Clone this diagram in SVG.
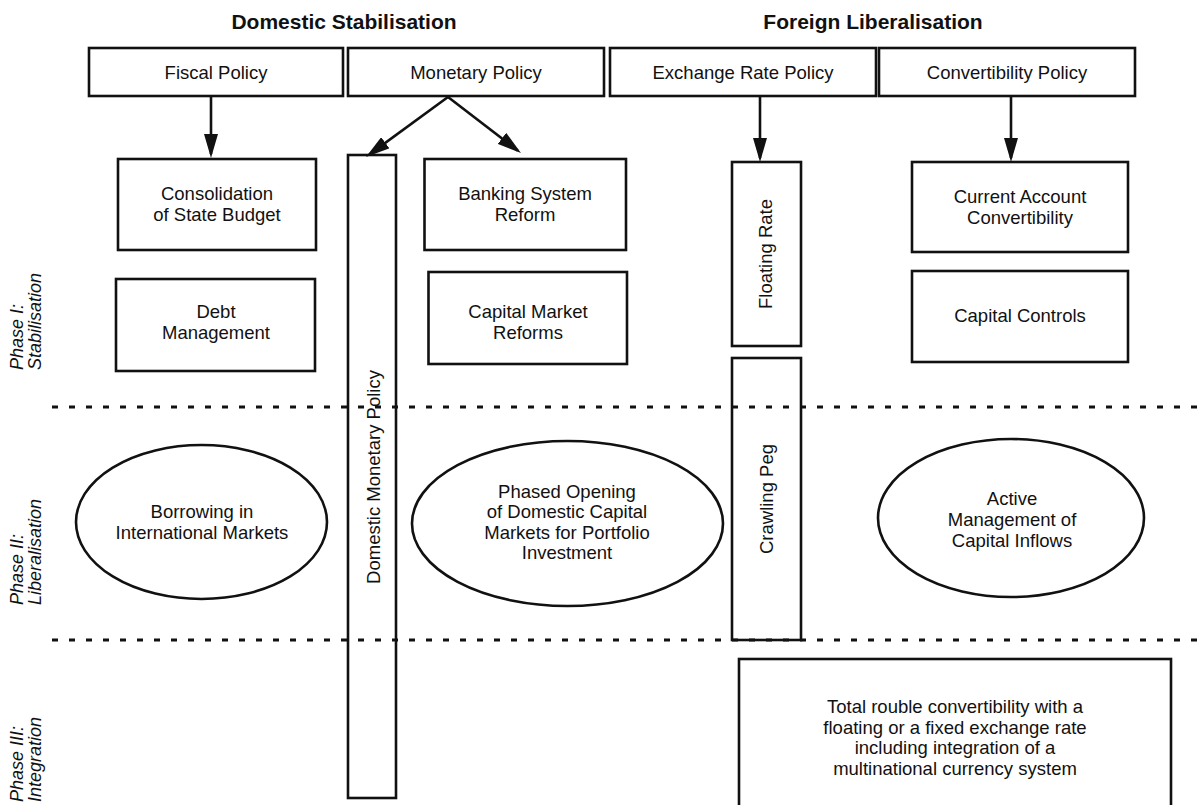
<svg xmlns="http://www.w3.org/2000/svg" width="1199" height="805" viewBox="0 0 1199 805">
<style>
text{font-family:"Liberation Sans",Arial,Helvetica,sans-serif;fill:#111;}
.t{font-size:18.5px;text-anchor:middle;}
.h{font-size:21px;font-weight:bold;text-anchor:middle;}
.p{font-size:18px;font-style:italic;}
.b{fill:none;stroke:#111;stroke-width:2.6;}
.dash{stroke:#111;stroke-width:3;stroke-dasharray:6 11;fill:none;}
.c{stroke:#111;stroke-width:2.6;fill:none;marker-end:url(#ah);}
</style>
<defs>
<marker id="ah" markerUnits="userSpaceOnUse" markerWidth="24" markerHeight="14" refX="20" refY="7" orient="auto">
<path d="M0,0 L24,7 L0,14 z" fill="#111"/>
</marker>
</defs>
<rect width="1199" height="805" fill="#fff"/>

<g id="headers">
<text class="h" x="344" y="29">Domestic Stabilisation</text>
<text class="h" x="873" y="29">Foreign Liberalisation</text>
</g>

<g id="phases">
<text class="p" transform="translate(22.5,370) rotate(-90)"><tspan x="0" y="0">Phase I:</tspan><tspan x="0" y="18.5">Stabilisation</tspan></text>
<text class="p" transform="translate(22.5,605) rotate(-90)"><tspan x="0" y="0">Phase II:</tspan><tspan x="0" y="18.5">Liberalisation</tspan></text>
<text class="p" transform="translate(22.5,802) rotate(-90)"><tspan x="0" y="0">Phase III:</tspan><tspan x="0" y="18.5">Integration</tspan></text>
</g>

<g id="dividers">
<line class="dash" x1="52" y1="407" x2="1199" y2="407"/>
<line class="dash" x1="52" y1="640" x2="1199" y2="640"/>
</g>

<g id="fiscal-policy"><rect class="b" x="89" y="48" width="254" height="48"/><text class="t" x="216" y="79">Fiscal Policy</text></g>
<g id="monetary-policy"><rect class="b" x="348" y="48" width="256" height="48"/><text class="t" x="476" y="79">Monetary Policy</text></g>
<g id="exchange-rate-policy"><rect class="b" x="610" y="48" width="266" height="48"/><text class="t" x="743" y="79">Exchange Rate Policy</text></g>
<g id="convertibility-policy"><rect class="b" x="879" y="48" width="256" height="48"/><text class="t" x="1007" y="79">Convertibility Policy</text></g>

<g id="consolidation"><rect class="b" x="118" y="159" width="198" height="91"/><text class="t" x="217" y="200">Consolidation</text><text class="t" x="217" y="221">of State Budget</text></g>
<g id="debt-management"><rect class="b" x="116" y="279" width="199" height="92"/><text class="t" x="216" y="318">Debt</text><text class="t" x="216" y="339">Management</text></g>
<g id="domestic-monetary-policy"><rect class="b" x="348" y="155" width="48" height="643"/><text class="t" transform="translate(380,477) rotate(-90)">Domestic Monetary Policy</text></g>
<g id="banking-system-reform"><rect class="b" x="424.5" y="159" width="201.5" height="91"/><text class="t" x="525" y="200">Banking System</text><text class="t" x="525" y="221">Reform</text></g>
<g id="capital-market-reforms"><rect class="b" x="428.5" y="272" width="198.5" height="92"/><text class="t" x="528" y="318">Capital Market</text><text class="t" x="528" y="339">Reforms</text></g>
<g id="floating-rate"><rect class="b" x="732" y="162" width="69" height="184"/><text class="t" transform="translate(772,254) rotate(-90)">Floating Rate</text></g>
<g id="crawling-peg"><rect class="b" x="732" y="358" width="69" height="282"/><text class="t" transform="translate(773,499) rotate(-90)">Crawling Peg</text></g>
<g id="current-account-convertibility"><rect class="b" x="912" y="162" width="216" height="90"/><text class="t" x="1020" y="203">Current Account</text><text class="t" x="1020" y="224">Convertibility</text></g>
<g id="capital-controls"><rect class="b" x="912" y="271" width="216" height="91"/><text class="t" x="1020" y="322">Capital Controls</text></g>

<g id="borrowing"><ellipse class="b" cx="201.5" cy="522" rx="125.5" ry="77"/><text class="t" x="202" y="518">Borrowing in</text><text class="t" x="202" y="539">International Markets</text></g>
<g id="phased-opening"><ellipse class="b" cx="567.5" cy="523.5" rx="155.5" ry="82.5"/><text class="t" x="567" y="498">Phased Opening</text><text class="t" x="567" y="518">of Domestic Capital</text><text class="t" x="567" y="539">Markets for Portfolio</text><text class="t" x="567" y="559">Investment</text></g>
<g id="active-management"><ellipse class="b" cx="1011" cy="518" rx="133" ry="79"/><text class="t" x="1012" y="505">Active</text><text class="t" x="1012" y="526">Management of</text><text class="t" x="1012" y="547">Capital Inflows</text></g>

<g id="total-convertibility"><rect class="b" x="739" y="659" width="432" height="170"/><text class="t" x="955" y="713">Total rouble convertibility with a</text><text class="t" x="955" y="734">floating or a fixed exchange rate</text><text class="t" x="955" y="754">including integration of a</text><text class="t" x="955" y="775">multinational currency system</text></g>

<g id="connectors">
<line class="c" x1="211" y1="96" x2="211" y2="154"/>
<line class="c" x1="448" y1="97" x2="369.2" y2="154.6"/>
<line class="c" x1="448" y1="97" x2="517.8" y2="150.6"/>
<line class="c" x1="760" y1="96" x2="760" y2="158"/>
<line class="c" x1="1011" y1="96" x2="1011" y2="158"/>
</g>
</svg>
